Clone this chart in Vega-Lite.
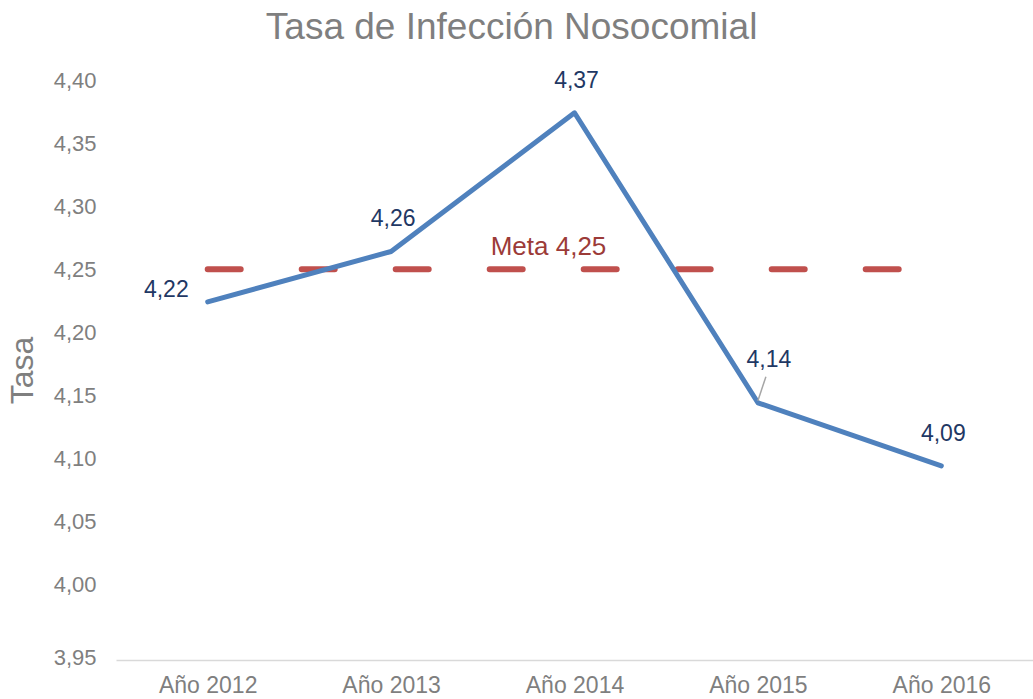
{
  "$schema": "https://vega.github.io/schema/vega-lite/v6.json",
  "width": 917,
  "height": 580,
  "autosize": {"type": "none"},
  "padding": {"left": 116, "top": 80, "right": 0, "bottom": 39},
  "background": "white",
  "config": {
    "locale": {"number": {"decimal": ",", "thousands": ".", "grouping": [3], "currency": ["", " €"]}},
    "font": "Liberation Sans",
    "view": {"stroke": null}
  },
  "title": {
    "text": "Tasa de Infección Nosocomial",
    "fontSize": 37,
    "fontWeight": "normal",
    "color": "#7F7F7F",
    "font": "Liberation Sans",
    "anchor": "middle",
    "frame": "bounds",
    "offset": 22,
    "dx": -8
  },
  "datasets": {
    "tasa": [
      {"anio": "Año 2012", "valor": 4.224},
      {"anio": "Año 2013", "valor": 4.264},
      {"anio": "Año 2014", "valor": 4.374},
      {"anio": "Año 2015", "valor": 4.144},
      {"anio": "Año 2016", "valor": 4.094}
    ],
    "meta": [
      {"anio": "Año 2012", "valor": 4.25},
      {"anio": "Año 2013", "valor": 4.25},
      {"anio": "Año 2014", "valor": 4.25},
      {"anio": "Año 2015", "valor": 4.25},
      {"anio": "Año 2016", "valor": 4.25}
    ]
  },
  "encoding": {
    "x": {
      "field": "anio",
      "type": "ordinal",
      "sort": null,
      "scale": {"type": "point", "padding": 0.5},
      "axis": {
        "title": null,
        "labelAngle": 0,
        "labelFontSize": 23,
        "labelColor": "#7F7F7F",
        "labelFont": "Liberation Sans",
        "labelPadding": 14,
        "ticks": false,
        "tickSize": 0,
        "domainColor": "#D9D9D9",
        "domainWidth": 1.5,
        "grid": false
      }
    },
    "y": {
      "field": "valor",
      "type": "quantitative",
      "scale": {"domain": [3.94, 4.40], "nice": false, "zero": false},
      "axis": {
        "title": "Tasa",
        "titleFontSize": 32,
        "titleFontWeight": "normal",
        "titleColor": "#7F7F7F",
        "titleFont": "Liberation Sans",
        "titlePadding": 14,
        "values": [3.95, 4.0, 4.05, 4.1, 4.15, 4.2, 4.25, 4.3, 4.35, 4.4],
        "format": ".2f",
        "labelFontSize": 22,
        "labelColor": "#7F7F7F",
        "labelFont": "Liberation Sans",
        "labelPadding": 20,
        "labelOffset": {"condition": {"test": "datum.value < 3.96", "value": 10}, "value": 0},
        "ticks": false,
        "tickSize": 0,
        "domain": false,
        "grid": false
      }
    }
  },
  "layer": [
    {
      "data": {"name": "meta"},
      "mark": {"type": "line", "color": "#C0504D", "strokeWidth": 6, "strokeDash": [33, 61], "strokeCap": "round"}
    },
    {
      "data": {"name": "meta"},
      "transform": [{"filter": "datum.anio === 'Año 2014'"}],
      "mark": {"type": "text", "text": "Meta 4,25", "fontSize": 26, "color": "#9C3B38", "align": "center", "baseline": "middle", "dx": -26, "dy": -22}
    },
    {
      "data": {"name": "tasa"},
      "mark": {"type": "line", "color": "#4F81BD", "strokeWidth": 5, "strokeCap": "round", "strokeJoin": "round"}
    },
    {
      "data": {"name": "tasa"},
      "transform": [{"filter": "datum.anio === 'Año 2015'"}],
      "mark": {"type": "rule", "color": "#A6A6A6", "strokeWidth": 1.5, "x2Offset": 8, "y2Offset": -26, "yOffset": -2},
      "encoding": {"x2": {"field": "anio"}, "y2": {"field": "valor"}}
    },
    {
      "data": {"name": "tasa"},
      "transform": [{"filter": "datum.anio === 'Año 2013' || datum.anio === 'Año 2014' || datum.anio === 'Año 2016'"}],
      "mark": {"type": "text", "fontSize": 23, "color": "#1F3864", "align": "center", "baseline": "middle", "dx": 2, "dy": -32},
      "encoding": {"text": {"field": "valor", "type": "quantitative", "format": ".2f"}}
    },
    {
      "data": {"name": "tasa"},
      "transform": [{"filter": "datum.anio === 'Año 2012'"}],
      "mark": {"type": "text", "fontSize": 23, "color": "#1F3864", "align": "right", "baseline": "middle", "dx": -19, "dy": -12},
      "encoding": {"text": {"field": "valor", "type": "quantitative", "format": ".2f"}}
    },
    {
      "data": {"name": "tasa"},
      "transform": [{"filter": "datum.anio === 'Año 2015'"}],
      "mark": {"type": "text", "fontSize": 23, "color": "#1F3864", "align": "center", "baseline": "middle", "dx": 11, "dy": -43},
      "encoding": {"text": {"field": "valor", "type": "quantitative", "format": ".2f"}}
    }
  ]
}
